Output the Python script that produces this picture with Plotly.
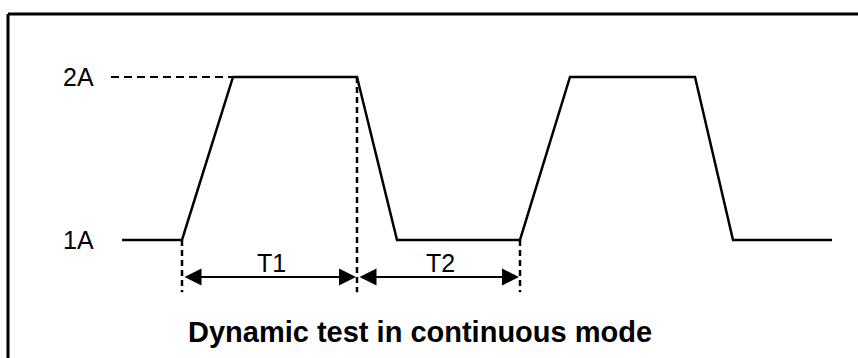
import plotly.graph_objects as go

# waveform: time (arbitrary units) vs load current (A)
time = [-6.0, 0.0, 5.1, 17.5, 21.5, 33.8, 38.8, 51.3, 55.1, 65.0]
current = [1, 1, 2, 2, 1, 1, 2, 2, 1, 1]

level_labels = ["1A", "2A"]
level_values = [1, 2]

period_labels = ["T1", "T2"]
period_edges = [0.0, 17.5, 33.8]

title_text = "Dynamic test in continuous mode"

fig = go.Figure()

fig.add_trace(go.Scatter(x=time, y=current, mode="lines",
                         line=dict(color="black", width=2.5),
                         hoverinfo="skip", showlegend=False))

# dashed helper lines
fig.add_trace(go.Scatter(x=[-7.1, time[2]], y=[2, 2], mode="lines",
                         line=dict(color="black", width=2, dash="8px,5px"),
                         hoverinfo="skip", showlegend=False))
marker_bottom = 0.68
for t, top in zip(period_edges, [1, 2, 1]):
    fig.add_trace(go.Scatter(x=[t, t], y=[top, marker_bottom], mode="lines",
                             line=dict(color="black", width=2.5, dash="6px,4px"),
                             hoverinfo="skip", showlegend=False))

# period arrows and labels
arrow_y = 0.773
for lab, a, b in zip(period_labels, period_edges[:-1], period_edges[1:]):
    fig.add_annotation(x=b - 0.1, y=arrow_y, ax=a + 0.1, ay=arrow_y,
                       xref="x", yref="y", axref="x", ayref="y",
                       text="", showarrow=True, arrowhead=2, arrowside="end+start",
                       arrowsize=1.7, arrowwidth=2, arrowcolor="black")
    fig.add_annotation(x=(a + b) / 2 + 0.2, y=0.86, text=lab, showarrow=False,
                       font=dict(family="Arial, Liberation Sans", size=25, color="black"))

for lab, v in zip(level_labels, level_values):
    fig.add_annotation(x=-8.6, y=v, text=lab, showarrow=False, xanchor="right",
                       font=dict(family="Arial, Liberation Sans", size=25, color="black"))

fig.add_annotation(x=420 / 858, y=1 - 350 / 358, xref="paper", yref="paper",
                   text="<b>" + title_text + "</b>", showarrow=False,
                   font=dict(family="Arial, Liberation Sans", size=29, color="black"))

# frame (only top and left edges fall inside the picture)
fig.add_shape(type="line", xref="paper", yref="paper", x0=8 / 858, x1=1.01,
              y0=1 - 14 / 358, y1=1 - 14 / 358, line=dict(color="black", width=3))
fig.add_shape(type="line", xref="paper", yref="paper", x0=8 / 858, x1=8 / 858,
              y0=-0.01, y1=1 - 14 / 358, line=dict(color="black", width=3))

fig.update_xaxes(range=[-18.2, 67.6], visible=False)
fig.update_yaxes(range=[0.276, 2.472], visible=False)
fig.update_layout(width=858, height=358, margin=dict(l=0, r=0, t=0, b=0),
                  plot_bgcolor="white", paper_bgcolor="white")

fig.write_html("out.html", config={"displayModeBar": False},
               post_script="document.body.style.margin='0';")
